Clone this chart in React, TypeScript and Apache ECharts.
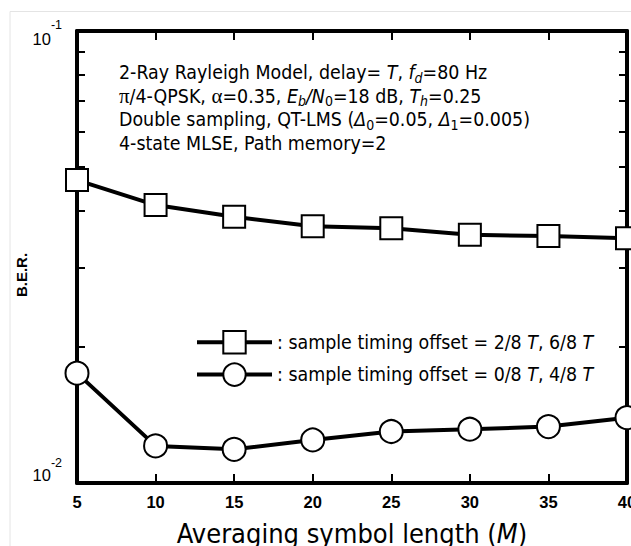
import React, { useEffect, useRef } from 'react';
import * as echarts from 'echarts';

// ---- data ----
const xValues = [5, 10, 15, 20, 25, 30, 35, 40];
const berSquare = [0.0468, 0.0412, 0.0388, 0.037, 0.0366, 0.0354, 0.0352, 0.0348];
const berCircle = [0.0175, 0.01208, 0.01187, 0.01245, 0.013, 0.01315, 0.01333, 0.01395];
const yMinorTicks = [0.02, 0.03, 0.04, 0.05, 0.06, 0.07, 0.08, 0.09];
const seriesNames = [
  ': sample timing offset = 2/8 T, 6/8 T',
  ': sample timing offset = 0/8 T, 4/8 T',
];
const legendLabels = [
  '{n|: sample timing offset = 2/8 }{i|T}{n|, 6/8 }{i|T}',
  '{n|: sample timing offset = 0/8 }{i|T}{n|, 4/8 }{i|T}',
];
const annotationLines = [
  '2-Ray Rayleigh Model, delay= {i|T}, {i|f}{si|d}=80 Hz',
  '{g|π}/4-QPSK, {g|α}=0.35, {i|E}{si|b}{i|/N}{s|0}=18 dB, {i|T}{si|h}=0.25',
  'Double sampling, QT-LMS ({i|Δ}{s|0}=0.05, {i|Δ}{s|1}=0.005)',
  '4-state MLSE, Path memory=2',
];
const xTitle = 'Averaging symbol length ({i|M})';
const yTitle = 'B.E.R.';

const COND = '"DejaVu Sans Condensed", "DejaVu Sans", sans-serif';
const ARIAL = '"Liberation Sans", Arial, sans-serif';
const FS = 19.4;

const yLabelRich = {
  b1: { fontSize: 16.5, fontFamily: ARIAL, color: '#000', lineHeight: 30, padding: [14.25, 0, 0, 0], verticalAlign: 'top' },
  s1: { fontSize: 12.5, fontFamily: ARIAL, color: '#000', lineHeight: 10, padding: [2, 0, 0, 0], verticalAlign: 'top' },
  b2: { fontSize: 16.5, fontFamily: ARIAL, color: '#000', lineHeight: 54, padding: [10.75, 0, 0, 0], verticalAlign: 'top' },
  s2: { fontSize: 12.5, fontFamily: ARIAL, color: '#000', lineHeight: 10, padding: [0.75, 0, 0, 0], verticalAlign: 'top' },
};

function makeY(position: 'left' | 'right', showLabel: boolean) {
  return {
    type: 'log',
    logBase: 10,
    min: 0.01,
    max: 0.1,
    position,
    axisLine: { show: true, lineStyle: { color: '#000', width: 4 } },
    axisTick: {
      show: true,
      inside: true,
      length: 8,
      lineStyle: { color: '#000', width: 2 },
      customValues: yMinorTicks,
    },
    splitLine: { show: false },
    minorTick: { show: false },
    axisLabel: {
      show: showLabel,
      margin: 15,
      formatter: (v: number) => {
        const e = Math.round(Math.log10(v));
        return e === -1 ? '{b1|10}{s1|-1}' : '{b2|10}{s2|-2}';
      },
      rich: yLabelRich,
    },
  };
}

function makeX(position: 'top' | 'bottom', showLabel: boolean) {
  return {
    type: 'value',
    min: 5,
    max: 40,
    interval: 5,
    position,
    axisLine: { show: true, onZero: false, lineStyle: { color: '#000', width: 4 } },
    axisTick: { show: true, inside: true, length: 9, lineStyle: { color: '#000', width: 2 } },
    splitLine: { show: false },
    axisLabel: {
      show: showLabel,
      margin: 10,
      fontSize: 16.5,
      fontWeight: 'bold',
      fontFamily: ARIAL,
      color: '#000',
      showMinLabel: true,
      showMaxLabel: true,
    },
    name: showLabel ? xTitle : '',
    nameLocation: 'middle',
    nameGap: 37,
    nameTextStyle: {
      fontSize: 27,
      fontFamily: COND,
      color: '#000',
      rich: { i: { fontSize: 27, fontFamily: COND, fontStyle: 'italic', color: '#000' } },
    },
  };
}

const sym = { color: '#fff', borderColor: '#000', borderWidth: 2 };

const option = {
  animation: false,
  backgroundColor: '#fff',
  grid: { left: 77, right: 4, top: 31, bottom: 63, containLabel: false, outerBoundsMode: 'none' },
  title: {
    text: annotationLines.join('\n'),
    left: 119,
    top: 61,
    padding: 0,
    textStyle: {
      fontSize: FS,
      fontWeight: 'normal',
      fontFamily: COND,
      color: '#000',
      lineHeight: 23.5,
      rich: {
        i: { fontSize: FS, fontFamily: COND, fontStyle: 'italic', color: '#000' },
        s: { fontSize: 14, fontFamily: COND, color: '#000', lineHeight: 12, verticalAlign: 'bottom' },
        si: { fontSize: 14, fontFamily: COND, fontStyle: 'italic', color: '#000', lineHeight: 12, verticalAlign: 'bottom' },
        g: { fontSize: 21, fontFamily: '"Liberation Serif", serif', color: '#000' },
      },
    },
  },
  legend: {
    orient: 'vertical',
    left: 190,
    top: 325,
    itemWidth: 75,
    itemHeight: 28,
    itemGap: 8,
    selectedMode: false,
    data: seriesNames,
    lineStyle: { width: 4, color: '#000' },
    itemStyle: { color: '#fff', borderColor: '#000', borderWidth: 2 },
    formatter: (name: string) => legendLabels[seriesNames.indexOf(name)],
    textStyle: {
      fontSize: FS,
      fontFamily: COND,
      color: '#000',
      rich: {
        n: { fontSize: FS, fontFamily: COND, color: '#000' },
        i: { fontSize: FS, fontFamily: COND, fontStyle: 'italic', color: '#000' },
      },
    },
  },
  xAxis: [makeX('bottom', true), makeX('top', false)],
  yAxis: [makeY('left', true), makeY('right', false)],
  graphic: [
    {
      type: 'text',
      x: 21,
      y: 275,
      rotation: Math.PI / 2,
      style: {
        text: yTitle,
        fontSize: 15,
        fontWeight: 'bold',
        fontFamily: ARIAL,
        fill: '#000',
        align: 'center',
        verticalAlign: 'middle',
      },
    },
    {
      type: 'polyline',
      silent: true,
      shape: { points: [[10, 546], [10, 11.5], [631, 11.5]] },
      style: { stroke: '#e4e4e4', lineWidth: 1, fill: 'none' },
      z: -1,
    },
  ],
  series: [
    {
      name: seriesNames[0],
      type: 'line',
      data: xValues.map((x, i) => [x, berSquare[i]]),
      symbol: 'rect',
      symbolSize: 22,
      clip: false,
      lineStyle: { color: '#000', width: 4 },
      itemStyle: sym,
      z: 3,
    },
    {
      name: seriesNames[1],
      type: 'line',
      data: xValues.map((x, i) => [x, berCircle[i]]),
      symbol: 'circle',
      symbolSize: 23,
      clip: false,
      lineStyle: { color: '#000', width: 4 },
      itemStyle: sym,
      z: 3,
    },
  ],
};

export default function App() {
  const ref = useRef<HTMLDivElement>(null);
  useEffect(() => {
    const chart = echarts.init(ref.current!, null, { renderer: 'svg' });
    chart.setOption(option as any);
    return () => chart.dispose();
  }, []);
  return (
    <div
      ref={ref}
      style={{ position: 'fixed', left: 0, top: 0, width: 631, height: 546, background: '#fff' }}
    />
  );
}
